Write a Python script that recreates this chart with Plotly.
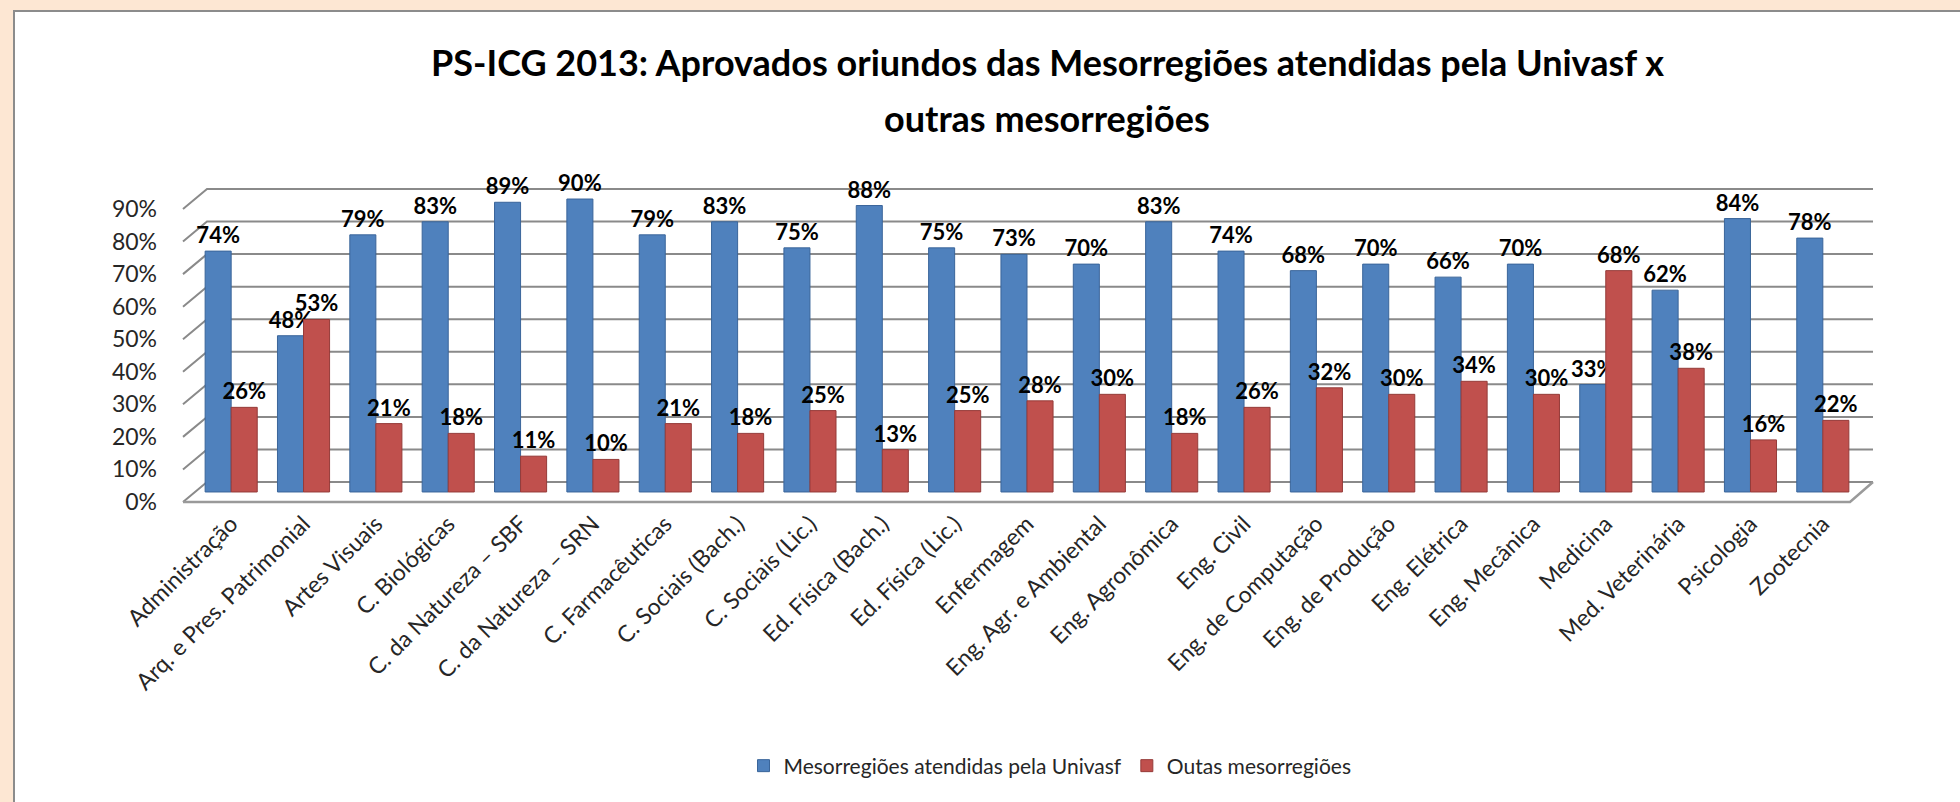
import plotly.graph_objects as go

cursos = ["Administração", "Arq. e Pres. Patrimonial", "Artes Visuais", "C. Biológicas",
          "C. da Natureza – SBF", "C. da Natureza – SRN", "C. Farmacêuticas", "C. Sociais (Bach.)",
          "C. Sociais (Lic.)", "Ed. Física (Bach.)", "Ed. Física (Lic.)", "Enfermagem",
          "Eng. Agr. e Ambiental", "Eng. Agronômica", "Eng. Civil", "Eng. de Computação",
          "Eng. de Produção", "Eng. Elétrica", "Eng. Mecânica", "Medicina", "Med. Veterinária",
          "Psicologia", "Zootecnia"]
atendidas = [0.74, 0.48, 0.79, 0.83, 0.89, 0.90, 0.79, 0.83, 0.75, 0.88, 0.75, 0.73,
             0.70, 0.83, 0.74, 0.68, 0.70, 0.66, 0.70, 0.33, 0.62, 0.84, 0.78]
outras = [0.26, 0.53, 0.21, 0.18, 0.11, 0.10, 0.21, 0.18, 0.25, 0.13, 0.25, 0.28,
          0.30, 0.18, 0.26, 0.32, 0.30, 0.34, 0.30, 0.68, 0.38, 0.16, 0.22]
ticks_y = [0, 0.1, 0.2, 0.3, 0.4, 0.5, 0.6, 0.7, 0.8, 0.9]

W, H = 1960, 802
L, R, T, B = 195, 101, 186, 297
pw, ph = W - L - R, H - T - B


def px(x):
    return (x - L) / pw


def py(y):
    return (H - B - y) / ph


fnt = "Lato, 'Open Sans', sans-serif"
label_font = dict(family=fnt, size=22, color="black", weight="bold")

fig = go.Figure()
fig.add_trace(go.Bar(x=cursos, y=atendidas, name="Mesorregiões atendidas pela Univasf",
                     marker=dict(color="#4F81BD", line=dict(color="#3A659A", width=1)),
                     texttemplate="%{y:.0%}", textposition="outside", cliponaxis=False,
                     constraintext="none", textfont=label_font))
fig.add_trace(go.Bar(x=cursos, y=outras, name="Outas mesorregiões",
                     marker=dict(color="#C0504D", line=dict(color="#953B39", width=1)),
                     texttemplate="%{y:.0%}", textposition="outside", cliponaxis=False,
                     constraintext="none", textfont=label_font))

shapes = [
    # white chart area with grey border
    dict(type="rect", xref="paper", yref="paper", x0=px(14), x1=px(W + 5), y0=py(11), y1=py(H + 5),
         fillcolor="white", line=dict(color="#8C8C8C", width=2), layer="below"),
]
# back wall gridlines with 3D side lines
for v in ticks_y:
    shapes.append(dict(type="path", xref="paper", yref="y", xsizemode="pixel", ysizemode="pixel",
                       xanchor=0, yanchor=v, path="M -12,-10 L 12,10 L 1678,10",
                       line=dict(color="#8A8A8A", width=2), layer="below"))
# floor front edge
shapes.append(dict(type="path", xref="paper", yref="y", xsizemode="pixel", ysizemode="pixel",
                   xanchor=0, yanchor=0, path="M -12,-10 L 1655,-10 L 1678,10",
                   line=dict(color="#9A9A9A", width=2.5), layer="below"))
fig.update_layout(shapes=shapes)

fig.add_annotation(text="<b>PS-ICG 2013: Aprovados oriundos das Mesorregiões atendidas pela Univasf x</b>",
                   xref="paper", yref="paper", x=px(1047), y=py(62), showarrow=False,
                   xanchor="center", yanchor="middle", font=dict(family=fnt, size=36, color="black"))
fig.add_annotation(text="<b>outras mesorregiões</b>",
                   xref="paper", yref="paper", x=px(1047), y=py(118), showarrow=False,
                   xanchor="center", yanchor="middle", font=dict(family=fnt, size=36, color="black"))

fig.update_layout(
    width=W, height=H,
    margin=dict(l=L, r=R, t=T, b=B, autoexpand=False),
    paper_bgcolor="#FDE7D3",
    plot_bgcolor="rgba(0,0,0,0)",
    barmode="group", bargap=0.28, bargroupgap=0,
    showlegend=True,
    legend=dict(orientation="h", x=px(1050), xanchor="center", y=py(766), yanchor="middle",
                font=dict(family=fnt, size=21, color="#262626"), itemwidth=30,
                bgcolor="rgba(0,0,0,0)"),
    font=dict(family=fnt, color="#262626"),
)
fig.update_xaxes(showgrid=False, showline=False, zeroline=False, tickangle=-45,
                 tickfont=dict(family=fnt, size=23, color="#262626"), ticks="")
fig.update_yaxes(range=[-0.04, 0.94], tickvals=ticks_y, tickformat=".0%", showgrid=False,
                 zeroline=False, showline=False, ticks="", ticklabelstandoff=37, ticklabelshift=10,
                 tickfont=dict(family=fnt, size=23, color="#262626"))

fig.write_html("out.html", config={"displayModeBar": False},
               post_script="document.body.style.margin='0';document.body.style.overflow='hidden';")
